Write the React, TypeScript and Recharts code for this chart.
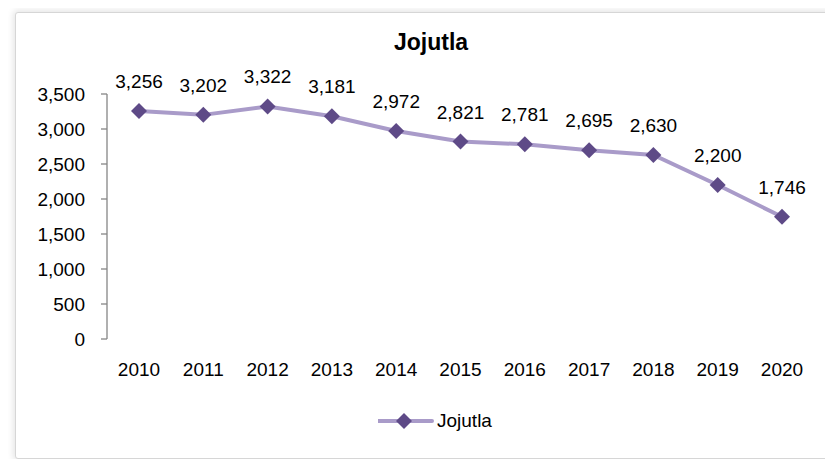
import { LineChart, Line, XAxis, YAxis, Legend, LabelList } from 'recharts';

const years = ['2010', '2011', '2012', '2013', '2014', '2015', '2016', '2017', '2018', '2019', '2020'];
const jojutla = [3256, 3202, 3322, 3181, 2972, 2821, 2781, 2695, 2630, 2200, 1746];
const yTicks = [0, 500, 1000, 1500, 2000, 2500, 3000, 3500];

const data = years.map((y, i) => ({ year: y, Jojutla: jojutla[i] }));

const FONT = '"Liberation Sans", Arial, sans-serif';
const LINE = '#a99bc9';
const MARK = '#5e4a87';
const AXIS = '#868686';

const fmt = (v: any) => Number(v).toLocaleString('en-US');

function Diamond(props: any) {
  const { cx, cy } = props;
  if (cx == null || cy == null) return null;
  const r = 8;
  return (
    <polygon
      points={`${cx},${cy - r} ${cx + r},${cy} ${cx},${cy + r} ${cx - r},${cy}`}
      fill={MARK}
    />
  );
}

function LegendBox() {
  return (
    <div style={{ paddingLeft: 378, display: 'flex', alignItems: 'center', fontFamily: FONT, fontSize: 19 }}>
      <svg width={56} height={20}>
        <line x1={0} y1={10} x2={54} y2={10} stroke={LINE} strokeWidth={4} strokeLinecap="round" />
        <polygon points="26,2 34,10 26,18 18,10" fill={MARK} />
      </svg>
      <span style={{ marginLeft: 3, color: '#000' }}>Jojutla</span>
    </div>
  );
}

export default function App() {
  return (
    <div style={{ position: 'relative', width: 833, height: 467, margin: -8, background: '#fff', overflow: 'hidden' }}>
      <div
        style={{
          position: 'absolute',
          left: 15,
          top: 12,
          width: 860,
          height: 445,
          border: '1px solid #d6d6d6',
          borderRadius: 3,
          boxShadow: '0 0 6px 2px rgba(0,0,0,0.10)',
          background: '#fff',
        }}
      />
      <div
        style={{
          position: 'absolute',
          left: 331,
          width: 200,
          top: 29,
          textAlign: 'center',
          fontFamily: FONT,
          fontWeight: 'bold',
          fontSize: 23,
          color: '#000',
        }}
      >
        Jojutla
      </div>
      <div style={{ position: 'absolute', left: 0, top: 0 }}>
        <LineChart width={833} height={467} data={data} margin={{ top: 94, right: 19, left: 0, bottom: 0 }}>
          <XAxis
            dataKey="year"
            axisLine={false}
            tickLine={false}
            tickSize={6}
            tickMargin={18}
            height={128}
            interval={0}
            padding={{ left: 32, right: 32 }}
            tick={{ fill: '#000', fontSize: 19, fontFamily: FONT }}
          />
          <YAxis
            width={107}
            domain={[0, 3500]}
            ticks={yTicks}
            interval={0}
            tickFormatter={fmt}
            axisLine={{ stroke: AXIS, strokeWidth: 1.3 }}
            tickLine={{ stroke: AXIS, strokeWidth: 1.3 }}
            tickSize={6}
            tickMargin={16}
            tick={{ fill: '#000', fontSize: 19, fontFamily: FONT }}
          />
          <Legend
            layout="horizontal"
            verticalAlign="middle"
            align="center"
            wrapperStyle={{ top: 410, left: 0, width: 833 }}
            content={() => <LegendBox />}
          />
          <Line
            type="linear"
            dataKey="Jojutla"
            stroke={LINE}
            strokeWidth={4}
            dot={<Diamond />}
            activeDot={false}
            isAnimationActive={false}
          >
            <LabelList
              dataKey="Jojutla"
              position="top"
              offset={23}
              formatter={fmt}
              fill="#000"
              fontSize={19}
              fontFamily={FONT}
            />
          </Line>
        </LineChart>
      </div>
    </div>
  );
}
